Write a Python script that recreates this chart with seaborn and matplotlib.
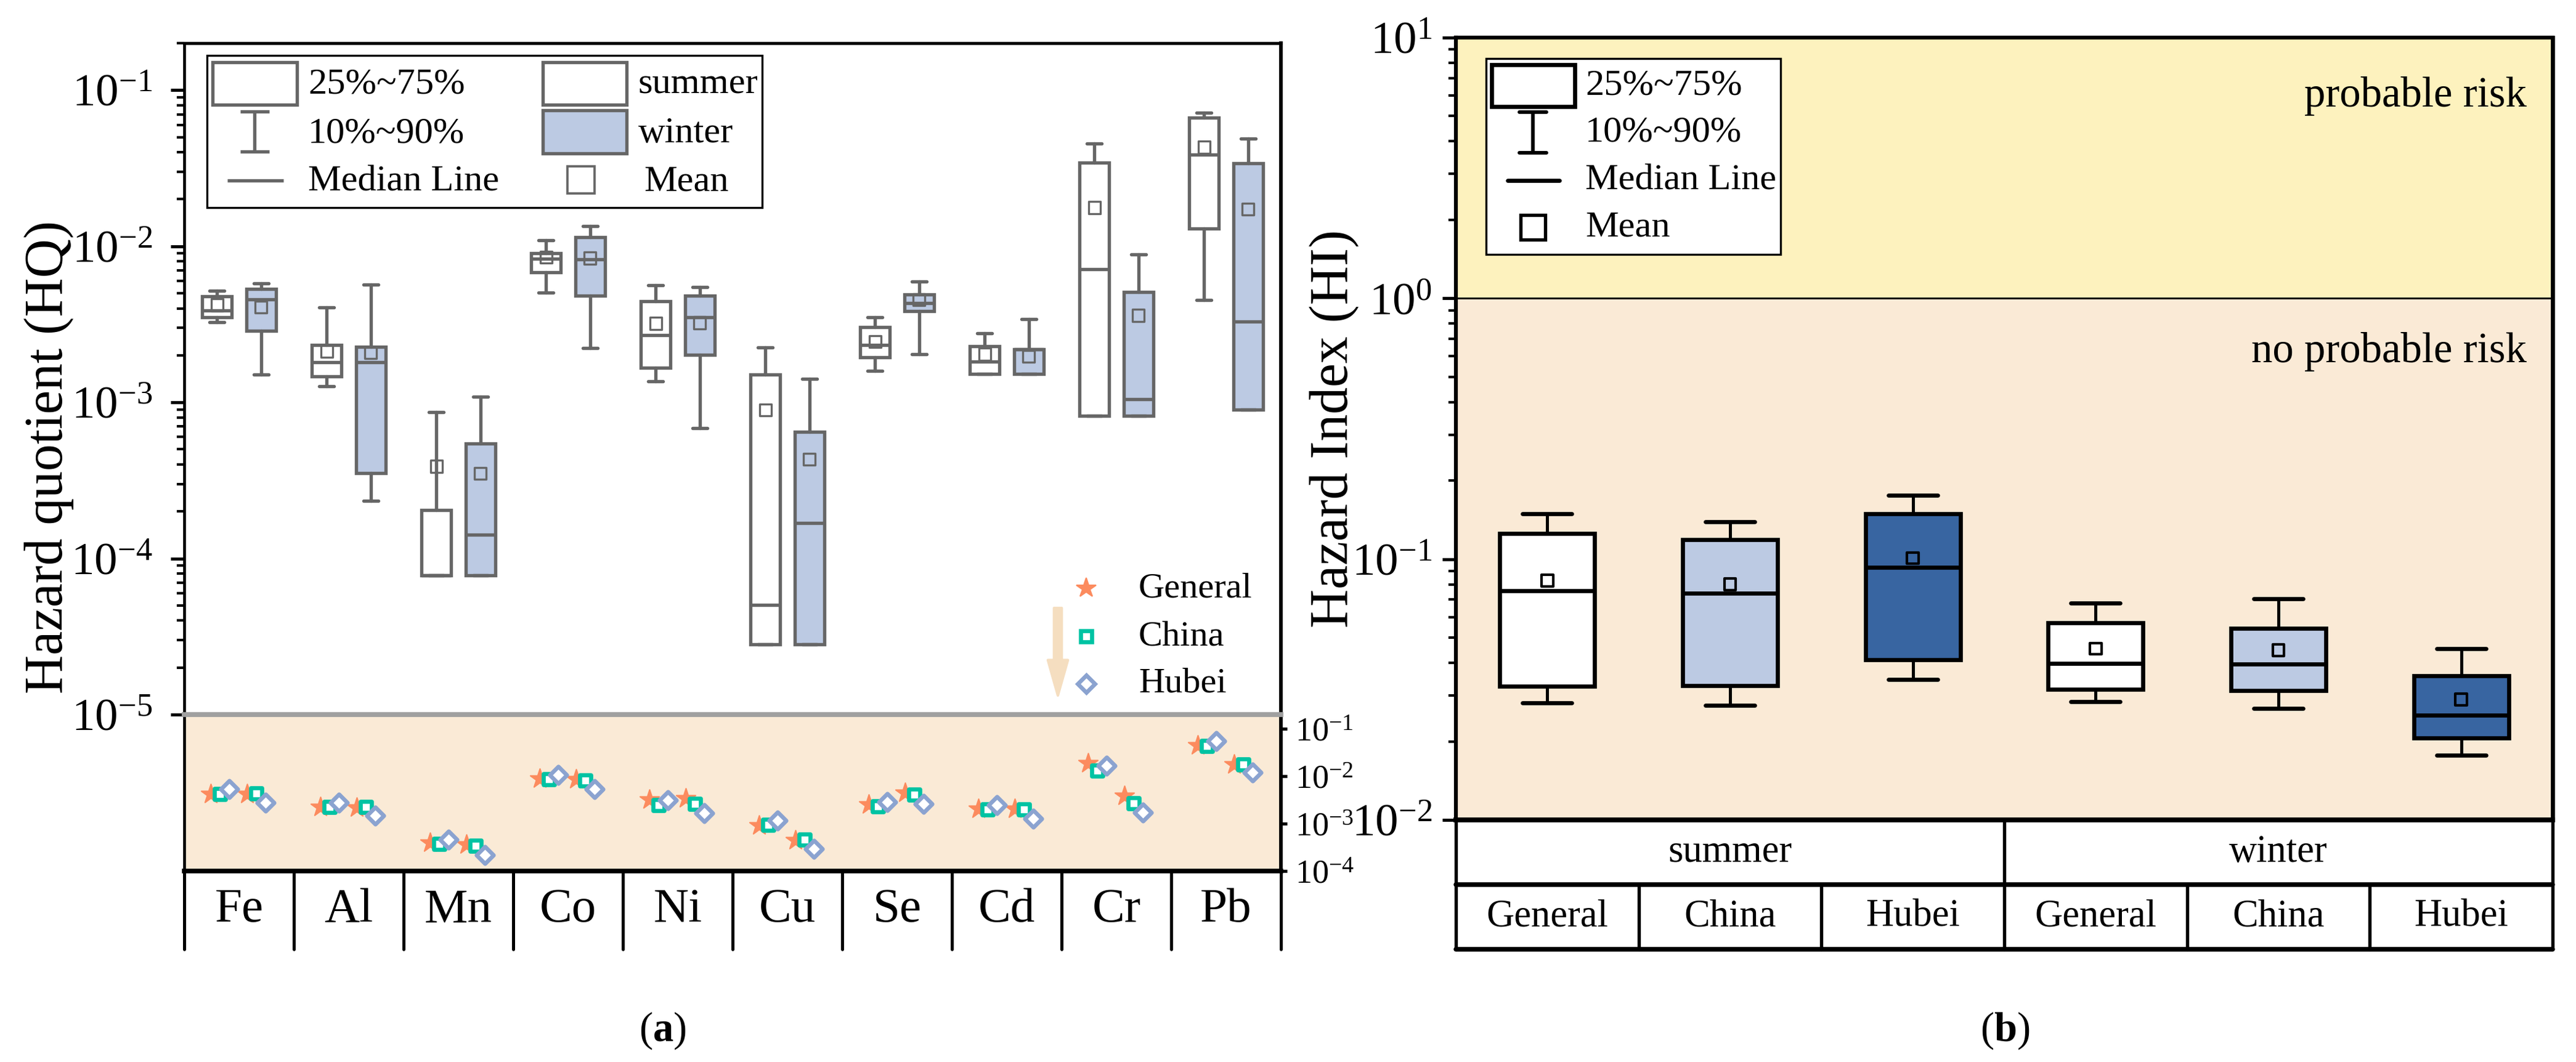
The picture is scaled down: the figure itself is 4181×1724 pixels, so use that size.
import numpy as np
import pandas as pd
import matplotlib
matplotlib.use("Agg")
import matplotlib.pyplot as plt
import seaborn as sns
from matplotlib.patches import Rectangle
from matplotlib.lines import Line2D
from matplotlib.ticker import LogLocator, NullFormatter, NullLocator, LogFormatterSciNotation

# ------------------------------------------------------------------ DATA
metals = ["Fe", "Al", "Mn", "Co", "Ni", "Cu", "Se", "Cd", "Cr", "Pb"]

# panel (a): HQ box statistics (10th, 25th, median, 75th, 90th percentile, mean)
summer_p10 = [3.25e-3, 1.27e-3, 7.8e-5, 5.03e-3, 1.36e-3, 2.81e-5, 1.59e-3, 1.52e-3, 8.18e-4, 4.54e-3]
summer_q1 = [3.50e-3, 1.47e-3, 7.8e-5, 6.83e-3, 1.67e-3, 2.81e-5, 1.95e-3, 1.52e-3, 8.18e-4, 1.30e-2]
summer_med = [3.87e-3, 1.81e-3, 7.8e-5, 8.35e-3, 2.70e-3, 5.04e-5, 2.34e-3, 1.83e-3, 7.11e-3, 3.86e-2]
summer_q3 = [4.76e-3, 2.33e-3, 2.04e-4, 9.01e-3, 4.44e-3, 1.51e-3, 3.03e-3, 2.28e-3, 3.44e-2, 6.64e-2]
summer_p90 = [5.18e-3, 4.06e-3, 8.65e-4, 1.09e-2, 5.62e-3, 2.25e-3, 3.51e-3, 2.77e-3, 4.54e-2, 7.17e-2]
summer_mean = [4.20e-3, 2.13e-3, 3.89e-4, 8.50e-3, 3.21e-3, 8.95e-4, 2.45e-3, 2.03e-3, 1.77e-2, 4.30e-2]

winter_p10 = [1.51e-3, 2.33e-4, 7.8e-5, 2.22e-3, 6.82e-4, 2.81e-5, 2.04e-3, 1.52e-3, 8.18e-4, 8.95e-4]
winter_q1 = [2.87e-3, 3.53e-4, 7.8e-5, 4.83e-3, 2.01e-3, 2.81e-5, 3.84e-3, 1.52e-3, 8.18e-4, 8.95e-4]
winter_med = [4.57e-3, 1.80e-3, 1.42e-4, 8.24e-3, 3.51e-3, 1.68e-4, 4.33e-3, 2.19e-3, 1.05e-3, 3.30e-3]
winter_q3 = [5.32e-3, 2.26e-3, 5.43e-4, 1.14e-2, 4.83e-3, 6.50e-4, 4.93e-3, 2.19e-3, 5.07e-3, 3.41e-2]
winter_p90 = [5.78e-3, 5.66e-3, 1.09e-3, 1.35e-2, 5.47e-3, 1.41e-3, 5.94e-3, 3.41e-3, 8.83e-3, 4.90e-2]
winter_mean = [4.08e-3, 2.08e-3, 3.51e-4, 8.41e-3, 3.23e-3, 4.32e-4, 4.54e-3, 1.97e-3, 3.61e-3, 1.73e-2]

# panel (a) lower band: mean HQ under three exposure parameter sets
sources = ["General", "China", "Hubei"]
general_summer = [4.20e-3, 2.24e-3, 3.95e-4, 8.87e-3, 3.21e-3, 9.14e-4, 2.53e-3, 2.05e-3, 1.87e-2, 4.46e-2]
china_summer = [4.20e-3, 2.24e-3, 3.72e-4, 8.61e-3, 2.45e-3, 9.42e-4, 2.31e-3, 1.99e-3, 1.31e-2, 4.32e-2]
hubei_summer = [5.33e-3, 2.77e-3, 4.59e-4, 1.06e-2, 3.12e-3, 1.16e-3, 2.85e-3, 2.45e-3, 1.66e-2, 5.50e-2]
general_winter = [4.20e-3, 2.18e-3, 3.61e-4, 8.61e-3, 3.40e-3, 4.46e-4, 4.46e-3, 2.05e-3, 3.84e-3, 1.77e-2]
china_winter = [4.30e-3, 2.24e-3, 3.40e-4, 8.11e-3, 2.60e-3, 4.59e-4, 4.07e-3, 1.99e-3, 2.68e-3, 1.77e-2]
hubei_winter = [2.77e-3, 1.48e-3, 2.18e-4, 5.33e-3, 1.66e-3, 2.94e-4, 2.60e-3, 1.27e-3, 1.71e-3, 1.20e-2]

# panel (b): HI box statistics, order summer General/China/Hubei, winter General/China/Hubei
seasons = ["summer", "winter"]
hi_groups = ["General", "China", "Hubei", "General", "China", "Hubei"]
hi_p10 = [0.0281, 0.0275, 0.0346, 0.0284, 0.0267, 0.0177]
hi_q1 = [0.0326, 0.0327, 0.0412, 0.0317, 0.0313, 0.0206]
hi_med = [0.0757, 0.0741, 0.0931, 0.0399, 0.0397, 0.0252]
hi_q3 = [0.1256, 0.1190, 0.1496, 0.0571, 0.0543, 0.0357]
hi_p90 = [0.1496, 0.1393, 0.1760, 0.0679, 0.0706, 0.0454]
hi_mean = [0.0826, 0.0800, 0.1010, 0.0454, 0.0447, 0.0290]

# ------------------------------------------------------------------ STYLE
sns.set_style("ticks")
plt.rcParams["font.family"] = ["Liberation Serif", "DejaVu Serif"]
plt.rcParams["mathtext.fontset"] = "custom"
plt.rcParams["mathtext.rm"] = "Liberation Serif"
plt.rcParams["mathtext.it"] = "Liberation Serif:italic"
plt.rcParams["mathtext.bf"] = "Liberation Serif:bold"
plt.rcParams["mathtext.default"] = "regular"
plt.rcParams["axes.unicode_minus"] = False
plt.rcParams["axes.edgecolor"] = "black"
plt.rcParams["xtick.color"] = "black"
plt.rcParams["ytick.color"] = "black"
plt.rcParams["text.color"] = "black"

GRAY = "#666666"
LIGHTBLUE = "#BCCAE3"
DARKBLUE = "#3865A1"
PEACH = "#FAEAD6"
YELLOW = "#FDF2BE"
C_GEN, C_CHN, C_HUB = "#FC8B5E", "#00C3A3", "#8BA3D0"

W, H, DPI = 4181, 1724, 300
fig = plt.figure(figsize=(W / DPI, H / DPI), dpi=DPI)


def rect(x0, y0, x1, y1):
    return [x0 / W, 1 - y1 / H, (x1 - x0) / W, (y1 - y0) / H]


def F(x, y):
    return (x / W, 1 - y / H)


axA = fig.add_axes(rect(299, 70, 2079, 1160))
axA2 = fig.add_axes(rect(299, 1160, 2079, 1414))
axAt = fig.add_axes(rect(299, 1414, 2079, 1541))
axB = fig.add_axes(rect(2363, 61, 4143, 1331))
axBt = fig.add_axes(rect(2363, 1331, 4143, 1541))


def stats(p10, q1, med, q3, p90):
    return [dict(whislo=a, q1=b, med=c, q3=d, whishi=e, fliers=[])
            for a, b, c, d, e in zip(p10, q1, med, q3, p90)]


# ------------------------------------------------------------------ PANEL (a) upper
xA = np.arange(len(metals))
axA.set_yscale("log")
axA.set_ylim(1e-5, 0.2)
axA.set_xlim(-0.5, len(metals) - 0.5)
lwA = 1.3
commonA = dict(widths=0.27, capwidths=0.135, patch_artist=True, showfliers=False,
               manage_ticks=False,
               whiskerprops=dict(color=GRAY, linewidth=lwA),
               capprops=dict(color=GRAY, linewidth=lwA),
               medianprops=dict(color=GRAY, linewidth=lwA))
axA.bxp(stats(summer_p10, summer_q1, summer_med, summer_q3, summer_p90), positions=xA - 0.2,
        boxprops=dict(facecolor="white", edgecolor=GRAY, linewidth=lwA), **commonA)
axA.bxp(stats(winter_p10, winter_q1, winter_med, winter_q3, winter_p90), positions=xA + 0.2,
        boxprops=dict(facecolor=LIGHTBLUE, edgecolor=GRAY, linewidth=lwA), **commonA)
dmean = pd.DataFrame({"pos": np.r_[xA - 0.2, xA + 0.2], "HQ": summer_mean + winter_mean})
sns.scatterplot(data=dmean, x="pos", y="HQ", marker="s", s=22, color=GRAY, facecolor="none",
                edgecolor=GRAY, linewidth=0.8, ax=axA, zorder=6, legend=False)
axA.set_xlabel("")
axA.set_ylabel("")
axA.set_xticks([])
axA.yaxis.set_major_locator(LogLocator(base=10, numticks=12))
axA.yaxis.set_minor_locator(LogLocator(base=10, subs=np.arange(2, 10), numticks=12))
axA.yaxis.set_minor_formatter(NullFormatter())
axA.yaxis.set_major_formatter(LogFormatterSciNotation())
axA.tick_params(axis="y", which="major", direction="out", length=5.3, width=1.2, labelsize=18, pad=7)
axA.tick_params(axis="y", which="minor", direction="out", length=3, width=1.0)
axA.spines["bottom"].set_visible(False)
axA.spines["left"].set_linewidth(1.1)
axA.spines["top"].set_linewidth(1.2)
axA.spines["right"].set_linewidth(1.4)

# ------------------------------------------------------------------ PANEL (a) lower band
axA2.set_facecolor(PEACH)
axA2.set_yscale("log")
axA2.set_ylim(1e-4, 0.2)
axA2.set_xlim(-0.5, len(metals) - 0.5)
season_off = {"summer": -0.175, "winter": 0.158}
src_off = {"General": -0.086, "China": 0.0, "Hubei": 0.086}
vals = {("General", "summer"): general_summer, ("China", "summer"): china_summer,
        ("Hubei", "summer"): hubei_summer, ("General", "winter"): general_winter,
        ("China", "winter"): china_winter, ("Hubei", "winter"): hubei_winter}
rows = []
for (src, sea), v in vals.items():
    for i, m in enumerate(metals):
        rows.append(dict(metal=m, source=src, season=sea,
                         pos=i + season_off[sea] + src_off[src], HQ=v[i]))
dlow = pd.DataFrame(rows)
mstyle = {
    "General": dict(marker="*", s=62, color=C_GEN, edgecolor=C_GEN, linewidth=0.5),
    "China": dict(marker="s", s=19, color=C_CHN, facecolor="white", edgecolor=C_CHN, linewidth=1.6),
    "Hubei": dict(marker="D", s=22, color=C_HUB, facecolor="white", edgecolor=C_HUB, linewidth=1.6),
}
for k, src in enumerate(sources):
    sns.scatterplot(data=dlow[dlow.source == src], x="pos", y="HQ", ax=axA2, legend=False,
                    zorder=4 + k, clip_on=False, **mstyle[src])
axA2.set_xlabel("")
axA2.set_ylabel("")
axA2.set_xticks([])
axA2.yaxis.tick_right()
axA2.set_yticks([1e-4, 1e-3, 1e-2, 1e-1])
axA2.yaxis.set_major_formatter(LogFormatterSciNotation())
axA2.yaxis.set_minor_locator(NullLocator())
axA2.tick_params(axis="y", which="major", direction="out", length=2.5, width=1.2, labelsize=13, pad=3)
axA2.spines["top"].set_color("#A0A0A0")
axA2.spines["top"].set_linewidth(1.9)
axA2.spines["bottom"].set_linewidth(1.8)
axA2.spines["left"].set_linewidth(1.1)
axA2.spines["right"].set_linewidth(1.4)

# ------------------------------------------------------------------ PANEL (a) category strip
axAt.set_xlim(-0.5, len(metals) - 0.5)
axAt.set_ylim(0, 1)
axAt.axis("off")
for b in np.arange(-0.5, len(metals), 1.0):
    axAt.plot([b, b], [0, 1], color="black", lw=1.2, clip_on=False)
for i, m in enumerate(metals):
    axAt.text(i, 0.5, m, ha="center", va="center", fontsize=19)

# ------------------------------------------------------------------ PANEL (a) legends
def frame(x0, y0, x1, y1, lw=0.8):
    fig.add_artist(Rectangle(F(x0, y1), (x1 - x0) / W, (y1 - y0) / H, transform=fig.transFigure,
                             facecolor="white", edgecolor="black", lw=lw, zorder=20))


def patch(x0, y0, x1, y1, fc, ec, lw):
    fig.add_artist(Rectangle(F(x0, y1), (x1 - x0) / W, (y1 - y0) / H, transform=fig.transFigure,
                             facecolor=fc, edgecolor=ec, lw=lw, zorder=21))


def line(xs, ys, color, lw, cap="butt"):
    p = [F(x, y) for x, y in zip(xs, ys)]
    fig.add_artist(Line2D([q[0] for q in p], [q[1] for q in p], transform=fig.transFigure,
                          color=color, lw=lw, solid_capstyle=cap, zorder=21))


def marker(x, y, **kw):
    fx, fy = F(x, y)
    fig.add_artist(Line2D([fx], [fy], transform=fig.transFigure, linestyle="none", zorder=21, **kw))


def label(x, y, s, size, ha="left"):
    fx, fy = F(x, y)
    fig.text(fx, fy, s, ha=ha, va="center", fontsize=size, zorder=22)


frame(336, 90, 1237, 337)
patch(345, 101, 482, 170, "white", GRAY, lwA)
line([413, 413], [181, 246], GRAY, lwA)
line([390, 437], [181, 181], GRAY, lwA)
line([390, 437], [246, 246], GRAY, lwA)
line([369, 460], [293, 293], GRAY, lwA)
label(500, 138, "25%~75%", 14.5)
label(500, 217, "10%~90%", 14.5)
label(500, 295, "Median Line", 14.5)
patch(881, 101, 1017, 170, "white", GRAY, lwA)
patch(881, 179, 1017, 249, LIGHTBLUE, GRAY, lwA)
marker(943, 292, marker="s", markersize=10.5, markerfacecolor="none", markeredgecolor=GRAY, markeredgewidth=0.9)
label(1036, 138, "summer", 14.5)
label(1036, 217, "winter", 14.5)
label(1045, 295, "Mean", 14.5)

# exposure-source legend with arrow
marker(1763, 955, marker="*", markersize=8.0, color=C_GEN, markeredgecolor=C_GEN, markeredgewidth=0.5)
marker(1763, 1033, marker="s", markersize=4.4, markerfacecolor="white", markeredgecolor=C_CHN, markeredgewidth=1.6)
marker(1763, 1110, marker="D", markersize=4.7, markerfacecolor="white", markeredgecolor=C_HUB, markeredgewidth=1.6)
label(1848, 955, "General", 14)
label(1848, 1033, "China", 14)
label(1848, 1110, "Hubei", 14)
fig.add_artist(matplotlib.patches.FancyArrowPatch(
    posA=F(1717, 987), posB=F(1717, 1129), transform=fig.transFigure,
    arrowstyle="simple,head_width=0.39,head_length=0.69,tail_width=0.15",
    mutation_scale=20, color="#F5DEC0", shrinkA=0, shrinkB=0, zorder=21))

# ------------------------------------------------------------------ PANEL (b)
xB = np.arange(len(hi_groups))
axB.set_yscale("log")
axB.set_ylim(1e-2, 10)
axB.set_xlim(-0.5, len(hi_groups) - 0.5)
axB.axhspan(1, 10, facecolor=YELLOW, zorder=0, lw=0)
axB.axhspan(1e-2, 1, facecolor=PEACH, zorder=0, lw=0)
axB.axhline(1, color="black", lw=0.7, zorder=1)
lwB = 1.6
bB = axB.bxp(stats(hi_p10, hi_q1, hi_med, hi_q3, hi_p90), positions=xB, widths=0.52, capwidths=0.27,
             patch_artist=True, showfliers=False, manage_ticks=False,
             boxprops=dict(edgecolor="black", linewidth=lwB),
             whiskerprops=dict(color="black", linewidth=1.2),
             capprops=dict(color="black", linewidth=lwB, solid_capstyle="round"),
             medianprops=dict(color="black", linewidth=lwB))
for p, c in zip(bB["boxes"], ["white", LIGHTBLUE, DARKBLUE] * 2):
    p.set_facecolor(c)
dB = pd.DataFrame({"pos": xB, "HI": hi_mean})
sns.scatterplot(data=dB, x="pos", y="HI", marker="s", s=20, color="black", facecolor="none",
                edgecolor="black", linewidth=1.0, ax=axB, zorder=6, legend=False)
axB.set_xlabel("")
axB.set_ylabel("")
axB.set_xticks([])
axB.yaxis.set_major_locator(LogLocator(base=10, numticks=12))
axB.yaxis.set_minor_locator(LogLocator(base=10, subs=np.arange(2, 10), numticks=12))
axB.yaxis.set_minor_formatter(NullFormatter())
axB.yaxis.set_major_formatter(LogFormatterSciNotation())
axB.tick_params(axis="y", which="major", direction="out", length=5.3, width=1.2, labelsize=18, pad=4)
axB.tick_params(axis="y", which="minor", direction="out", length=3, width=1.0)
axB.spines["top"].set_linewidth(1.5)
axB.spines["left"].set_linewidth(1.5)
axB.spines["right"].set_linewidth(1.6)
axB.spines["bottom"].set_linewidth(1.9)
label(4101, 156, "probable risk", 16.5, ha="right")
label(4101, 571, "no probable risk", 16.5, ha="right")

# category table for (b)
axBt.set_xlim(-0.5, len(hi_groups) - 0.5)
axBt.set_ylim(0, 2)
axBt.axis("off")
axBt.plot([-0.5, 5.5], [1, 1], color="black", lw=1.8, clip_on=False)
axBt.plot([-0.5, 5.5], [0, 0], color="black", lw=1.8, clip_on=False)
for b in [-0.5, 2.5, 5.5]:
    axBt.plot([b, b], [0, 2], color="black", lw=1.3, clip_on=False)
for b in [0.5, 1.5, 3.5, 4.5]:
    axBt.plot([b, b], [0, 1], color="black", lw=1.3, clip_on=False)
for k, s in enumerate(seasons):
    axBt.text(1 + 3 * k, 1.5, s, ha="center", va="center", fontsize=15)
for i, g in enumerate(hi_groups):
    axBt.text(i, 0.5, g, ha="center", va="center", fontsize=15)

# legend (b)
frame(2412, 95, 2890, 413)
patch(2421, 105, 2556, 173, "white", "black", lwB)
line([2488, 2488], [182, 248], "black", 1.4)
line([2466, 2510], [182, 182], "black", 1.4, cap="round")
line([2466, 2510], [248, 248], "black", 1.4, cap="round")
line([2447, 2531], [293, 293], "black", 1.6, cap="round")
marker(2488, 369, marker="s", markersize=9.5, markerfacecolor="none", markeredgecolor="black", markeredgewidth=1.3)
label(2573, 139, "25%~75%", 14.5)
label(2573, 216, "10%~90%", 14.5)
label(2573, 294, "Median Line", 14.5)
label(2573, 369, "Mean", 14.5)

# ------------------------------------------------------------------ axis titles and panel labels
fig.text(80 / W, 1 - 742 / H, "Hazard quotient (HQ)", rotation=90, ha="center", va="center", fontsize=21)
fig.text(2166 / W, 1 - 696 / H, "Hazard Index (HI)", rotation=90, ha="center", va="center", fontsize=21)
fig.text(1075 / W, 1 - 1673 / H, r"($\mathbf{a}$)", ha="center", va="center", fontsize=16)
fig.text(3254 / W, 1 - 1673 / H, r"($\mathbf{b}$)", ha="center", va="center", fontsize=16)

fig.savefig("out.png", dpi=DPI)
